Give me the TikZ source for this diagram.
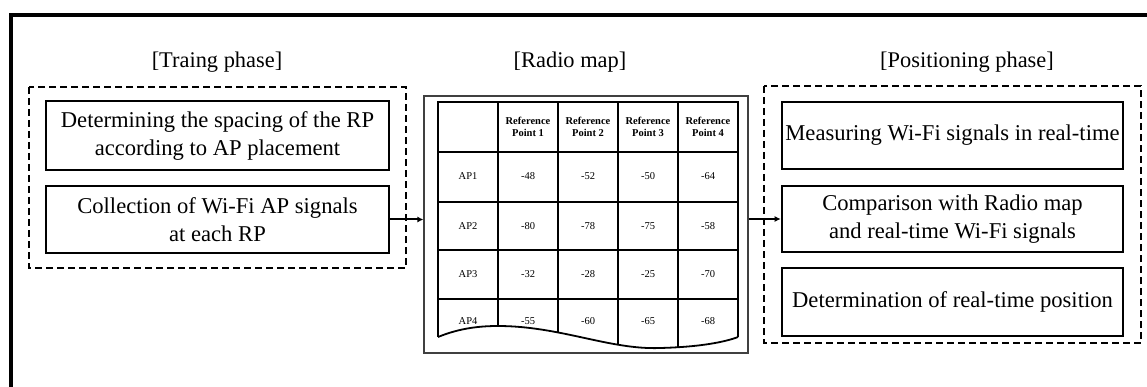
\documentclass[tikz,border=0pt]{standalone}
\usepackage{fontspec}
\setmainfont{Liberation Serif}
\usetikzlibrary{arrows.meta}
\begin{document}
\begin{tikzpicture}[x=1pt,y=-1pt,
  box/.style={draw,line width=2.6pt,align=center,font=\fontsize{22.6}{28}\selectfont,inner sep=0pt},
  dashbox/.style={draw,line width=2.6pt,dash pattern=on 7pt off 4pt},
  head/.style={font=\fontsize{22.4}{26}\selectfont},
  cell/.style={font=\fontsize{10.5}{12}\selectfont,align=center},
  hcell/.style={font=\fontsize{10.5}{12}\selectfont\bfseries,align=center},
  arr/.style={line width=2pt,-{Latex[length=6pt,width=6pt]}}]
\useasboundingbox (0,0) rectangle (1147,387);
% cropped outer frame
\draw[line width=4pt] (10.5,387) -- (10.5,15.5) -- (1147,15.5);
% headings
\node[head] (h1) at (217,62) {[Traing phase]};
\node[head] (h2) at (570,62) {[Radio map]};
\node[head] (h3) at (967,62) {[Positioning phase]};
% left group
\draw[dashbox] (29,87) rectangle (406,268);
\node[box,minimum width=343pt,minimum height=69pt] (t1) at (217.5,135.5) {Determining the spacing of the RP\\according to AP placement};
\node[box,minimum width=343pt,minimum height=67pt] (t2) at (217.5,219.5) {Collection of Wi-Fi AP signals\\at each RP};
% right group
\draw[dashbox] (764,86) rectangle (1141,343);
\node[box,minimum width=341pt,minimum height=67pt] (p1) at (952.5,135.5) {Measuring Wi-Fi signals in real-time};
\node[box,minimum width=341pt,minimum height=66pt] (p2) at (952.5,219) {Comparison with Radio map\\and real-time Wi-Fi signals};
\node[box,minimum width=341pt,minimum height=68pt] (p3) at (952.5,302) {Determination of real-time position};
% radio map
\node[draw=black!75,line width=1.2pt,minimum width=324pt,minimum height=257pt,inner sep=0pt] (map) at (586,224.5) {};
\begin{scope}
\clip (438,102) -- (738,102) -- (738,337) .. controls (725,342) and (700,347) .. (660,348)
  .. controls (610,350) and (560,326) .. (498,326) .. controls (480,326) and (460,328) .. (438,337) -- cycle;
\foreach \x in {498,558,618,678} \draw[line width=1.3pt] (\x,102) -- (\x,360);
\foreach \y in {152,202,250,299} \draw[line width=1.3pt] (438,\y) -- (738,\y);
\end{scope}
\draw[line width=1.4pt] (438,337) -- (438,102) -- (738,102) -- (738,337);
\draw[line width=1.8pt] (738,337) .. controls (725,342) and (700,347) .. (660,348)
  .. controls (610,350) and (560,326) .. (498,326) .. controls (480,326) and (460,328) .. (438,337);
% headers
\node[hcell] (c1) at (528,127) {Reference\\Point 1};
\node[hcell] (c2) at (588,127) {Reference\\Point 2};
\node[hcell] (c3) at (648,127) {Reference\\Point 3};
\node[hcell] (c4) at (708,127) {Reference\\Point 4};
\foreach \r/\y/\a/\b/\c/\d in {1/176/-48/-52/-50/-64, 2/226/-80/-78/-75/-58, 3/274/-32/-28/-25/-70, 4/321/-55/-60/-65/-68}{
  \node[cell] (r\r) at (468,\y) {AP\r};
  \node[cell] (r\r a) at (528,\y) {\a};
  \node[cell] (r\r b) at (588,\y) {\b};
  \node[cell] (r\r c) at (648,\y) {\c};
  \node[cell] (r\r d) at (708,\y) {\d};
}
% arrows
\draw[arr] (t2.east) -- (map.west |- t2.east);
\draw[arr] (map.east |- p2.west) -- (p2.west);
\end{tikzpicture}
\end{document}
